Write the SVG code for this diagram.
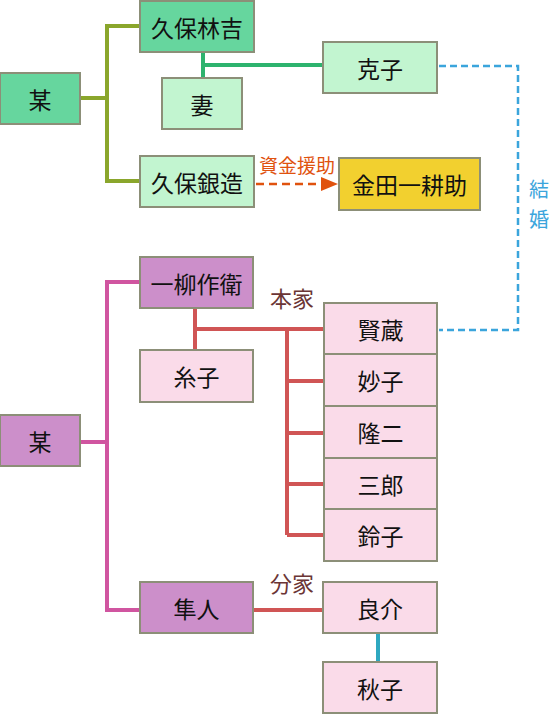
<svg xmlns="http://www.w3.org/2000/svg" width="551" height="715" viewBox="0 0 551 715">
<style>
.n{stroke:#8c8f78;stroke-width:2}
.dg{fill:#66d69e}.lg{fill:#c2f5d0}.gd{fill:#f2d02f}.pu{fill:#cc8fca}.pk{fill:#fadbe9}
.t{font-family:"Noto Sans CJK JP","Noto Sans",sans-serif;font-size:23px;fill:#111;text-anchor:middle;dominant-baseline:central}
.lb{font-family:"Noto Sans CJK JP","Noto Sans",sans-serif;text-anchor:middle;dominant-baseline:central}
.c{fill:none;stroke-width:4}
</style>
<g id="connectors">
<path class="c" stroke="#8aa62c" d="M80,98 H107 M140,26 H107 V181 H140"/>
<path class="c" stroke="#2db36e" d="M203,52 V78 M203,65 H323"/>
<path fill="none" stroke="#3ba5dc" stroke-width="2.5" stroke-dasharray="7,4" d="M439,66 H518 V330 H439"/>
<path fill="none" stroke="#e0520e" stroke-width="2.5" stroke-dasharray="8,5" d="M256,184 H322"/>
<path d="M321,177 L338,184 L321,191 z" fill="#e0520e"/>
<path class="c" stroke="#d055a0" d="M80,442 H107 M140,282 H107 V610 H140"/>
<path class="c" stroke="#d05555" d="M195,308 V350 M195,329 H324 M287,329 V535 M287,381 H324 M287,433 H324 M287,484 H324 M287,535 H324 M253,610 H323"/>
<path class="c" stroke="#2ea8c0" d="M378,633 V662"/>
</g>
<g id="labels">
<text class="lb" x="297" y="164" font-size="19" fill="#e0520e">資金援助</text>
<text class="lb" x="292" y="297" font-size="22" fill="#6b3535">本家</text>
<text class="lb" x="292" y="582" font-size="22" fill="#6b3535">分家</text>
<text class="lb" x="539" y="188" font-size="20" fill="#3ba5dc">結</text>
<text class="lb" x="539" y="218" font-size="20" fill="#3ba5dc">婚</text>
</g>
<g id="n-bou1"><rect class="n dg" x="0" y="73" width="80" height="51"/><text class="t" x="40" y="98.5">某</text></g>
<g id="n-rinkichi"><rect class="n dg" x="140" y="1" width="114" height="51"/><text class="t" x="197" y="26.5">久保林吉</text></g>
<g id="n-tsuma"><rect class="n lg" x="162" y="78" width="80" height="51"/><text class="t" x="202" y="103.5">妻</text></g>
<g id="n-katsuko"><rect class="n lg" x="323" y="42" width="114" height="51"/><text class="t" x="380" y="67.5">克子</text></g>
<g id="n-ginzo"><rect class="n lg" x="140" y="156" width="114" height="51"/><text class="t" x="197" y="181.5">久保銀造</text></g>
<g id="n-kindaichi"><rect class="n gd" x="339" y="158" width="141" height="52"/><text class="t" x="409.5" y="184">金田一耕助</text></g>
<g id="n-bou2"><rect class="n pu" x="0" y="415" width="80" height="51"/><text class="t" x="40" y="440.5">某</text></g>
<g id="n-sakue"><rect class="n pu" x="140" y="257" width="113" height="51"/><text class="t" x="196.5" y="282.5">一柳作衛</text></g>
<g id="n-itoko"><rect class="n pk" x="140" y="350" width="113" height="52"/><text class="t" x="196.5" y="376">糸子</text></g>
<g id="n-kenzo"><rect class="n pk" x="324" y="303" width="113" height="51"/><text class="t" x="380.5" y="328.5">賢蔵</text></g>
<g id="n-taeko"><rect class="n pk" x="324" y="354" width="113" height="52"/><text class="t" x="380.5" y="380">妙子</text></g>
<g id="n-ryuji"><rect class="n pk" x="324" y="406" width="113" height="52"/><text class="t" x="380.5" y="432">隆二</text></g>
<g id="n-saburo"><rect class="n pk" x="324" y="458" width="113" height="51"/><text class="t" x="380.5" y="483.5">三郎</text></g>
<g id="n-suzuko"><rect class="n pk" x="324" y="509" width="113" height="52"/><text class="t" x="380.5" y="535">鈴子</text></g>
<g id="n-hayato"><rect class="n pu" x="140" y="582" width="113" height="51"/><text class="t" x="196.5" y="607.5">隼人</text></g>
<g id="n-ryosuke"><rect class="n pk" x="323" y="582" width="114" height="51"/><text class="t" x="380" y="607.5">良介</text></g>
<g id="n-akiko"><rect class="n pk" x="323" y="662" width="114" height="51"/><text class="t" x="380" y="687.5">秋子</text></g>
</svg>
